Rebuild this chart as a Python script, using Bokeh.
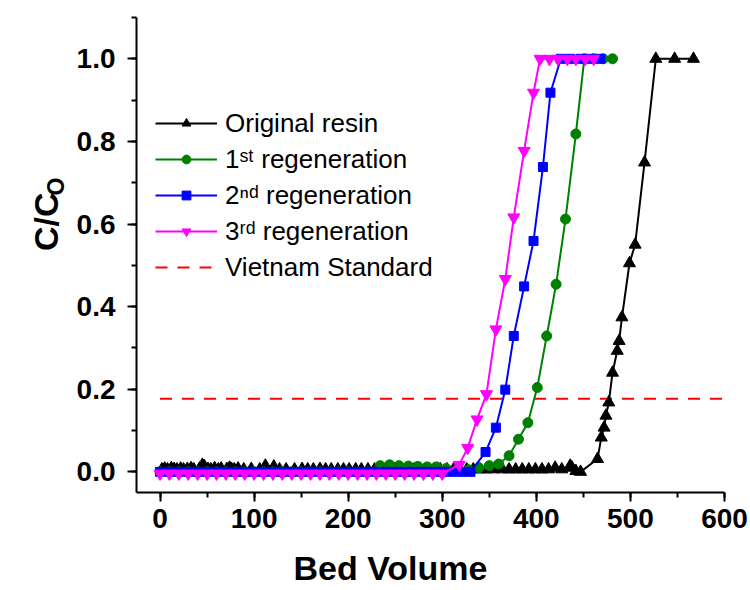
from math import pi
from bokeh.plotting import figure
from bokeh.layouts import row, column
from bokeh.models import (Range1d, SingleIntervalTicker, PrintfTickFormatter,
                          Legend, LegendItem, Label)
from bokeh.embed import file_html
from bokeh.resources import INLINE

# ---- data ----
bv_original = [2, 5, 8, 12, 15, 18, 22, 25, 29, 33,
               36, 42, 45, 47, 51, 54, 58, 62, 65, 71,
               74, 76, 79, 83, 89, 97, 106, 112, 121, 127,
               134, 143, 151, 157, 163, 170, 176, 182, 189, 195,
               201, 208, 214, 221, 228, 235, 242, 249, 256, 263,
               270, 277, 284, 291, 298, 305, 312, 319, 326, 333,
               340, 347, 354, 364, 371, 378, 385, 392, 399, 406,
               413, 420, 427, 436, 438, 442, 447, 465, 469, 472,
               474, 477, 481, 486, 488, 491, 499, 505, 515, 527,
               547, 567]
cc_original = [0.006, 0.008, 0.006, 0.009, 0.007, 0.006, 0.008, 0.006, 0.007, 0.009,
               0.006, 0.008, 0.017, 0.014, 0.007, 0.006, 0.009, 0.006, 0.008, 0.007,
               0.010, 0.007, 0.006, 0.008, 0.006, 0.007, 0.006, 0.015, 0.013, 0.006,
               0.006, 0.006, 0.007, 0.006, 0.006, 0.007, 0.006, 0.006, 0.006, 0.006,
               0.006, 0.006, 0.006, 0.006, 0.006, 0.006, 0.006, 0.006, 0.006, 0.006,
               0.006, 0.006, 0.006, 0.006, 0.006, 0.006, 0.006, 0.006, 0.006, 0.006,
               0.006, 0.006, 0.006, 0.006, 0.006, 0.006, 0.006, 0.006, 0.006, 0.006,
               0.006, 0.010, 0.006, 0.015, 0.010, 0.002, 0.000, 0.031, 0.083, 0.107,
               0.136, 0.168, 0.240, 0.293, 0.317, 0.374, 0.505, 0.550, 0.749, 1.000,
               1.000, 1.000]

bv_regen1 = [0, 10, 20, 30, 40, 50, 60, 70, 80, 90,
             100, 110, 120, 130, 140, 150, 160, 170, 180, 190,
             200, 210, 220, 234, 244, 254, 264, 274, 284, 294,
             304, 316, 328, 339, 350, 360, 371, 381, 391, 401,
             411, 421, 431, 442, 451, 461, 471, 481]
cc_regen1 = [0.0, 0.0, 0.0, 0.0, 0.0, 0.0, 0.0, 0.0, 0.0, 0.0,
             0.0, 0.0, 0.0, 0.0, 0.0, 0.0, 0.0, 0.0, 0.0, 0.0,
             0.0, 0.0, 0.0, 0.015, 0.017, 0.015, 0.014, 0.013, 0.012, 0.012,
             0.008, 0.005, 0.005, 0.010, 0.015, 0.019, 0.039, 0.079, 0.119, 0.204,
             0.329, 0.454, 0.612, 0.818, 1.0, 1.0, 1.0, 1.0]

bv_regen2 = [0, 10, 20, 30, 40, 50, 60, 70, 80, 90,
             100, 110, 120, 130, 140, 150, 160, 170, 180, 190,
             200, 210, 220, 230, 240, 250, 260, 270, 280, 290,
             300, 310, 320, 330, 346, 357, 367, 376, 387, 397,
             407, 415, 426, 436, 447, 457, 468]
cc_regen2 = [0.0, 0.0, 0.0, 0.0, 0.0, 0.0, 0.0, 0.0, 0.0, 0.0,
             0.0, 0.0, 0.0, 0.0, 0.0, 0.0, 0.0, 0.0, 0.0, 0.0,
             0.0, 0.0, 0.0, 0.0, 0.0, 0.0, 0.0, 0.0, 0.0, 0.0,
             0.0, 0.0, 0.0, 0.0, 0.048, 0.107, 0.199, 0.329, 0.449, 0.559,
             0.738, 0.918, 1.0, 1.0, 1.0, 1.0, 1.0]

bv_regen3 = [0, 10, 20, 30, 40, 50, 60, 70, 80, 90,
             100, 110, 120, 130, 140, 150, 160, 170, 180, 190,
             200, 210, 220, 230, 240, 250, 260, 270, 280, 290,
             300, 318, 327, 337, 347, 357, 367, 376, 387, 397,
             404, 414, 423, 433, 442, 452, 461]
cc_regen3 = [-0.004, -0.004, -0.004, -0.004, -0.004, -0.004, -0.004, -0.004, -0.004, -0.004,
             -0.004, -0.004, -0.004, -0.004, -0.004, -0.004, -0.004, -0.004, -0.004, -0.004,
             -0.004, -0.004, -0.004, -0.004, -0.004, -0.004, -0.004, -0.004, -0.004, -0.004,
             -0.004, 0.017, 0.058, 0.127, 0.188, 0.345, 0.467, 0.616, 0.777, 0.918,
             1.0, 1.0, 1.0, 1.0, 1.0, 1.0, 1.0]

bv_standard = [0, 600]
cc_standard = [0.177, 0.177]

series_labels = ["Original resin", "1\u02e2\u1d57 regeneration", "2\u207f\u1d48 regeneration",
                 "3\u02b3\u1d48 regeneration", "Vietnam Standard"]
x_title = "Bed Volume"
y_title_main = "C/C"
y_title_sub = "O"

FONT = "Liberation Sans"

MAIN_H = 542
LEFT_W = 72
MAIN_W = 676
TOTAL_W = LEFT_W + MAIN_W
BOTTOM_H = 46

# ---- main plot ----
p = figure(width=MAIN_W, height=MAIN_H, output_backend="svg", toolbar_location=None,
           x_range=Range1d(-25, 600), y_range=Range1d(-0.05, 1.1),
           min_border_left=64, min_border_right=24, min_border_top=17,
           min_border_bottom=50)
p.outline_line_color = None
p.grid.visible = False
p.background_fill_color = "white"

for ax in (p.xaxis[0], p.yaxis[0]):
    ax.axis_line_width = 2
    ax.major_tick_line_width = 2
    ax.minor_tick_line_width = 2
    ax.major_tick_in = 0
    ax.major_tick_out = 9
    ax.minor_tick_in = 0
    ax.minor_tick_out = 5
    ax.major_label_text_font = FONT
    ax.major_label_text_font_style = "bold"
    ax.major_label_text_font_size = "28px"
    ax.major_label_text_color = "black"
p.xaxis[0].ticker = SingleIntervalTicker(interval=100, num_minor_ticks=2)
p.yaxis[0].ticker = SingleIntervalTicker(interval=0.2, num_minor_ticks=2)
p.yaxis[0].formatter = PrintfTickFormatter(format="%.1f")
p.xaxis[0].major_label_standoff = 7
p.yaxis[0].major_label_standoff = 12

r_std = p.line(bv_standard, cc_standard, line_color="#FF0000", line_width=2,
               line_dash="12 10")
l0 = p.line(bv_original, cc_original, line_color="black", line_width=2)
s0 = p.scatter(bv_original, cc_original, marker="triangle", size=12,
               fill_color="black", line_color="black")
l1 = p.line(bv_regen1, cc_regen1, line_color="#008000", line_width=2)
s1 = p.scatter(bv_regen1, cc_regen1, marker="circle", size=10,
               fill_color="#008000", line_color="#008000")
l2 = p.line(bv_regen2, cc_regen2, line_color="#0000FF", line_width=2)
s2 = p.scatter(bv_regen2, cc_regen2, marker="square", size=9,
               fill_color="#0000FF", line_color="#0000FF")
l3 = p.line(bv_regen3, cc_regen3, line_color="#FF00FF", line_width=2)
s3 = p.scatter(bv_regen3, cc_regen3, marker="inverted_triangle", size=12,
               fill_color="#FF00FF", line_color="#FF00FF")

legend = Legend(items=[
    LegendItem(label=series_labels[0], renderers=[l0, s0]),
    LegendItem(label=series_labels[1], renderers=[l1, s1]),
    LegendItem(label=series_labels[2], renderers=[l2, s2]),
    LegendItem(label=series_labels[3], renderers=[l3, s3]),
    LegendItem(label=series_labels[4], renderers=[r_std]),
], location=(19, 207))
legend.border_line_color = None
legend.background_fill_alpha = 0
legend.padding = 0
legend.spacing = 0
legend.margin = 0
legend.glyph_width = 62
legend.glyph_height = 22
legend.label_height = 36
legend.label_standoff = 8
legend.label_text_font = FONT
legend.label_text_font_size = "26px"
legend.label_text_color = "black"
p.add_layout(legend)

# ---- y-axis title panel ----
yt = figure(width=LEFT_W, height=MAIN_H, output_backend="svg", toolbar_location=None,
            x_range=Range1d(0, LEFT_W), y_range=Range1d(0, MAIN_H),
            x_axis_type=None, y_axis_type=None, min_border=0)
yt.outline_line_color = None
yt.grid.visible = False
yt.add_layout(Label(x=45, y=309, text=y_title_main, angle=pi / 2,
                    text_font=FONT, text_font_style="bold", text_font_size="34px",
                    text_color="black", text_align="center", text_baseline="middle"))
yt.add_layout(Label(x=55, y=349, text=y_title_sub, angle=pi / 2,
                    text_font=FONT, text_font_style="bold", text_font_size="23px",
                    text_color="black", text_align="center", text_baseline="middle"))

# ---- x-axis title panel ----
xt = figure(width=TOTAL_W, height=BOTTOM_H, output_backend="svg", toolbar_location=None,
            x_range=Range1d(0, TOTAL_W), y_range=Range1d(0, BOTTOM_H),
            x_axis_type=None, y_axis_type=None, min_border=0)
xt.outline_line_color = None
xt.grid.visible = False
xt.add_layout(Label(x=390, y=21, text=x_title, text_font=FONT, text_font_style="bold",
                    text_font_size="34px", text_color="black", text_align="center",
                    text_baseline="middle"))

layout = column(row(yt, p, spacing=0), xt, spacing=0)
open("out.html", "w").write(file_html(layout, INLINE))
